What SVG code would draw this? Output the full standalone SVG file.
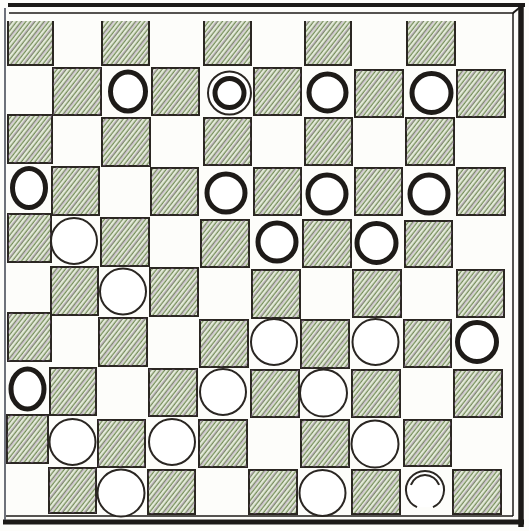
<svg xmlns="http://www.w3.org/2000/svg" width="529" height="531" viewBox="0 0 529 531">
<defs>
<pattern id="h" width="3.6" height="3.6" patternUnits="userSpaceOnUse" patternTransform="rotate(-52)">
<rect width="3.6" height="3.6" fill="#e6ecdc"/>
<line x1="0" y1="1.2" x2="3.6" y2="1.2" stroke="#768c5c" stroke-width="1.3"/>
</pattern>
<pattern id="h2" width="9" height="9" patternUnits="userSpaceOnUse" patternTransform="rotate(-52)">
<line x1="0" y1="4" x2="9" y2="4" stroke="#9a74ac" stroke-width="1.1" opacity="0.6"/>
</pattern>
<style>
.sq{fill:url(#h);stroke:#2b2722;stroke-width:2}
.ov{fill:url(#h2);stroke:none}
.top{fill:url(#h);stroke:none}
.edge{fill:none;stroke:#2b2722;stroke-width:2}
.bk{fill:#fff;stroke:#1e1b18;stroke-width:5}
.wh{fill:#fff;stroke:#2a2622;stroke-width:2}
.fr{stroke:#1c1a17;fill:none}
</style>
</defs>
<rect width="529" height="531" fill="#fdfdfa"/>
<g id="frame">
<line class="fr" x1="8" y1="5" x2="525" y2="5" stroke-width="4"/>
<line class="fr" x1="9" y1="13" x2="514" y2="13" stroke-width="1.5"/>
<line class="fr" x1="521" y1="4" x2="521" y2="527" stroke-width="5.5"/>
<line class="fr" x1="513" y1="13" x2="513" y2="516" stroke-width="1.5"/>
<line class="fr" x1="3" y1="522" x2="524" y2="522" stroke-width="5"/>
<line class="fr" x1="6" y1="516" x2="513" y2="516" stroke-width="1.5"/>
<line class="fr" x1="5" y1="8" x2="5" y2="520" stroke-width="1.6" style="stroke:#4a4e5a"/>
<line class="fr" x1="524" y1="4" x2="513" y2="13" stroke-width="2"/>
</g>
<g id="squares">
<g id="row0">
<rect class="top" x="8" y="21" width="45" height="44"/><rect class="ov" x="8" y="21" width="45" height="44"/><path class="edge" d="M8,21V65H53V21"/>
<rect class="top" x="102" y="21" width="47" height="44"/><rect class="ov" x="102" y="21" width="47" height="44"/><path class="edge" d="M102,21V65H149V21"/>
<rect class="top" x="204" y="21" width="47" height="44"/><rect class="ov" x="204" y="21" width="47" height="44"/><path class="edge" d="M204,21V65H251V21"/>
<rect class="top" x="305" y="21" width="46" height="44"/><rect class="ov" x="305" y="21" width="46" height="44"/><path class="edge" d="M305,21V65H351V21"/>
<rect class="top" x="407" y="21" width="48" height="44"/><rect class="ov" x="407" y="21" width="48" height="44"/><path class="edge" d="M407,21V65H455V21"/>
</g>
<g id="row1">
<rect class="sq" x="53" y="68" width="48" height="47"/><rect class="ov" x="53" y="68" width="48" height="47"/>
<rect class="sq" x="152" y="68" width="47" height="47"/><rect class="ov" x="152" y="68" width="47" height="47"/>
<rect class="sq" x="254" y="68" width="47" height="47"/><rect class="ov" x="254" y="68" width="47" height="47"/>
<rect class="sq" x="355" y="70" width="48" height="47"/><rect class="ov" x="355" y="70" width="48" height="47"/>
<rect class="sq" x="457" y="70" width="48" height="47"/><rect class="ov" x="457" y="70" width="48" height="47"/>
</g>
<g id="row2">
<rect class="sq" x="8" y="115" width="44" height="48"/><rect class="ov" x="8" y="115" width="44" height="48"/>
<rect class="sq" x="102" y="118" width="48" height="48"/><rect class="ov" x="102" y="118" width="48" height="48"/>
<rect class="sq" x="204" y="118" width="47" height="47"/><rect class="ov" x="204" y="118" width="47" height="47"/>
<rect class="sq" x="305" y="118" width="47" height="47"/><rect class="ov" x="305" y="118" width="47" height="47"/>
<rect class="sq" x="406" y="118" width="48" height="47"/><rect class="ov" x="406" y="118" width="48" height="47"/>
</g>
<g id="row3">
<rect class="sq" x="52" y="167" width="47" height="48"/><rect class="ov" x="52" y="167" width="47" height="48"/>
<rect class="sq" x="151" y="168" width="47" height="47"/><rect class="ov" x="151" y="168" width="47" height="47"/>
<rect class="sq" x="254" y="168" width="47" height="47"/><rect class="ov" x="254" y="168" width="47" height="47"/>
<rect class="sq" x="355" y="168" width="47" height="47"/><rect class="ov" x="355" y="168" width="47" height="47"/>
<rect class="sq" x="457" y="168" width="48" height="47"/><rect class="ov" x="457" y="168" width="48" height="47"/>
</g>
<g id="row4">
<rect class="sq" x="8" y="214" width="43" height="48"/><rect class="ov" x="8" y="214" width="43" height="48"/>
<rect class="sq" x="101" y="218" width="48" height="48"/><rect class="ov" x="101" y="218" width="48" height="48"/>
<rect class="sq" x="201" y="220" width="48" height="47"/><rect class="ov" x="201" y="220" width="48" height="47"/>
<rect class="sq" x="303" y="220" width="48" height="47"/><rect class="ov" x="303" y="220" width="48" height="47"/>
<rect class="sq" x="405" y="221" width="47" height="46"/><rect class="ov" x="405" y="221" width="47" height="46"/>
</g>
<g id="row5">
<rect class="sq" x="51" y="267" width="47" height="48"/><rect class="ov" x="51" y="267" width="47" height="48"/>
<rect class="sq" x="150" y="268" width="48" height="48"/><rect class="ov" x="150" y="268" width="48" height="48"/>
<rect class="sq" x="252" y="270" width="48" height="48"/><rect class="ov" x="252" y="270" width="48" height="48"/>
<rect class="sq" x="353" y="270" width="48" height="47"/><rect class="ov" x="353" y="270" width="48" height="47"/>
<rect class="sq" x="457" y="270" width="47" height="47"/><rect class="ov" x="457" y="270" width="47" height="47"/>
</g>
<g id="row6">
<rect class="sq" x="8" y="313" width="43" height="48"/><rect class="ov" x="8" y="313" width="43" height="48"/>
<rect class="sq" x="99" y="318" width="48" height="48"/><rect class="ov" x="99" y="318" width="48" height="48"/>
<rect class="sq" x="200" y="320" width="48" height="47"/><rect class="ov" x="200" y="320" width="48" height="47"/>
<rect class="sq" x="301" y="320" width="48" height="48"/><rect class="ov" x="301" y="320" width="48" height="48"/>
<rect class="sq" x="404" y="320" width="47" height="47"/><rect class="ov" x="404" y="320" width="47" height="47"/>
</g>
<g id="row7">
<rect class="sq" x="50" y="368" width="46" height="47"/><rect class="ov" x="50" y="368" width="46" height="47"/>
<rect class="sq" x="149" y="369" width="48" height="47"/><rect class="ov" x="149" y="369" width="48" height="47"/>
<rect class="sq" x="251" y="370" width="48" height="47"/><rect class="ov" x="251" y="370" width="48" height="47"/>
<rect class="sq" x="352" y="370" width="48" height="47"/><rect class="ov" x="352" y="370" width="48" height="47"/>
<rect class="sq" x="454" y="370" width="48" height="47"/><rect class="ov" x="454" y="370" width="48" height="47"/>
</g>
<g id="row8">
<rect class="sq" x="7" y="415" width="41" height="48"/><rect class="ov" x="7" y="415" width="41" height="48"/>
<rect class="sq" x="98" y="420" width="47" height="47"/><rect class="ov" x="98" y="420" width="47" height="47"/>
<rect class="sq" x="199" y="420" width="48" height="47"/><rect class="ov" x="199" y="420" width="48" height="47"/>
<rect class="sq" x="301" y="420" width="48" height="47"/><rect class="ov" x="301" y="420" width="48" height="47"/>
<rect class="sq" x="404" y="420" width="47" height="46"/><rect class="ov" x="404" y="420" width="47" height="46"/>
</g>
<g id="row9">
<rect class="sq" x="49" y="468" width="47" height="45"/><rect class="ov" x="49" y="468" width="47" height="45"/>
<rect class="sq" x="148" y="470" width="47" height="44"/><rect class="ov" x="148" y="470" width="47" height="44"/>
<rect class="sq" x="249" y="470" width="48" height="44"/><rect class="ov" x="249" y="470" width="48" height="44"/>
<rect class="sq" x="352" y="470" width="48" height="44"/><rect class="ov" x="352" y="470" width="48" height="44"/>
<rect class="sq" x="453" y="470" width="48" height="44"/><rect class="ov" x="453" y="470" width="48" height="44"/>
</g>
</g>
<g id="pieces">
<g id="p1-2"><ellipse class="bk" cx="128" cy="91.5" rx="17.5" ry="19.5"/></g>
<g id="p1-4"><circle class="wh" cx="229.5" cy="93" r="21.5" stroke-width="1.6"/><circle class="bk" cx="229.5" cy="93" r="14.5" stroke-width="6"/></g>
<g id="p1-6"><circle class="bk" cx="327.5" cy="92.5" r="18.5"/></g>
<g id="p1-8"><circle class="bk" cx="431.5" cy="93" r="19.5"/></g>
<g id="p3-0"><ellipse class="bk" cx="29" cy="188" rx="16.5" ry="19.5"/></g>
<g id="p3-4"><circle class="bk" cx="226" cy="193" r="19" stroke-width="5.5"/></g>
<g id="p3-6"><circle class="bk" cx="327" cy="194" r="19"/></g>
<g id="p3-8"><circle class="bk" cx="429" cy="194" r="19"/></g>
<g id="p4-1"><circle class="wh" cx="74" cy="241" r="23"/></g>
<g id="p4-5"><circle class="bk" cx="277" cy="242" r="19"/></g>
<g id="p4-7"><circle class="bk" cx="376.5" cy="243" r="19.5"/></g>
<g id="p5-2"><circle class="wh" cx="123" cy="291.5" r="23"/></g>
<g id="p6-5"><circle class="wh" cx="274" cy="342" r="23"/></g>
<g id="p6-7"><circle class="wh" cx="375.5" cy="342" r="23"/></g>
<g id="p6-9"><circle class="bk" cx="477" cy="342" r="19.5"/></g>
<g id="p7-0"><ellipse class="bk" cx="27.5" cy="389" rx="16.5" ry="20"/></g>
<g id="p7-4"><circle class="wh" cx="223" cy="392" r="23"/></g>
<g id="p7-6"><circle class="wh" cx="323.5" cy="393" r="23.5"/></g>
<g id="p8-1"><circle class="wh" cx="72.5" cy="442" r="23"/></g>
<g id="p8-3"><circle class="wh" cx="172" cy="442" r="23"/></g>
<g id="p8-7"><circle class="wh" cx="375" cy="444" r="23.5"/></g>
<g id="p9-2"><circle class="wh" cx="121" cy="493" r="23.5"/></g>
<g id="p9-6"><circle class="wh" cx="322.5" cy="493" r="23"/></g>
<g id="p9-8"><path class="wh" fill="none" stroke-width="1.8" d="M417,507.2A19,19 0 1 1 433,507.2"/><path class="wh" fill="none" stroke-width="1.6" d="M410.9,484.9A15,15 0 0 1 439.1,484.9"/></g>
</g>
</svg>
